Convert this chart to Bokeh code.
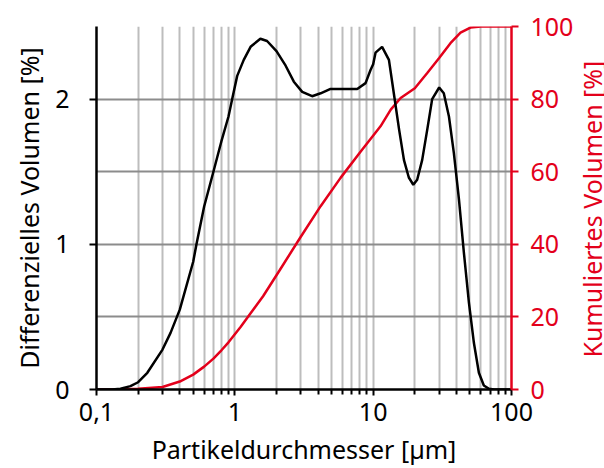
import math
from bokeh.plotting import figure
from bokeh.layouts import row
from bokeh.models import Range1d, LinearAxis, FixedTicker, CustomJSTickFormatter, Label
from bokeh.embed import file_html
from bokeh.resources import INLINE

# Differential volume [%] vs particle diameter [µm]
diff_d = [0.1, 0.13, 0.149, 0.176, 0.2, 0.233, 0.3, 0.343, 0.4, 0.5, 0.528, 0.6, 0.7, 0.8,
          0.9, 0.957, 1.04, 1.16, 1.30, 1.53, 1.71, 2.0, 2.33, 2.67, 3.07, 3.62, 4.17, 4.92,
          6.14, 7.67, 8.81, 9.57, 10.0, 10.4, 11.6, 13.0, 14.1, 15.4, 16.7, 18.1, 19.5, 20.8,
          22.6, 24.6, 26.7, 30.0, 32.4, 35.3, 38.3, 41.7, 45.3, 49.2, 53.5, 58.1, 63.1, 68.7,
          75.0, 100.0]
diff_v = [0.0, 0.0, 0.005, 0.023, 0.05, 0.115, 0.275, 0.39, 0.55, 0.88, 1.0, 1.26, 1.5, 1.71,
          1.88, 2.0, 2.16, 2.27, 2.36, 2.416, 2.40, 2.33, 2.23, 2.12, 2.05, 2.02, 2.04, 2.07,
          2.07, 2.07, 2.11, 2.20, 2.24, 2.32, 2.36, 2.27, 2.04, 1.79, 1.58, 1.46, 1.41, 1.445,
          1.58, 1.79, 2.0, 2.08, 2.04, 1.88, 1.63, 1.31, 0.94, 0.60, 0.32, 0.115, 0.028, 0.005,
          0.0, 0.0]

# Cumulative volume [%]
cum_d = [0.1, 0.15, 0.2, 0.3, 0.4, 0.5, 0.6, 0.7, 0.8, 0.9, 1.1, 1.3, 1.6, 2.12, 2.99, 4.17,
         5.81, 8.1, 9.57, 11.3, 13.4, 15.8, 20.0, 24.6, 30.0, 36.2, 42.8, 50.5, 60.0, 100.0]
cum_v = [0.0, 0.0, 0.2, 0.7, 2.2, 4.1, 6.3, 8.5, 10.8, 13.0, 17.2, 21.0, 25.7, 33.0, 42.0, 50.5,
         58.3, 65.5, 69.0, 72.5, 77.1, 80.3, 83.0, 87.2, 91.3, 95.4, 98.3, 99.7, 100.0, 100.0]

x_major = [0.1, 1, 10, 100]
x_minor = [0.2, 0.3, 0.4, 0.5, 0.6, 0.7, 0.8, 0.9, 2, 3, 4, 5, 6, 7, 8, 9,
           20, 30, 40, 50, 60, 70, 80, 90]
left_ticks = [0, 1, 2]
right_ticks = [0, 20, 40, 60, 80, 100]
hgrid = [0.5, 1.0, 1.5, 2.0, 2.5]

RED = "#e3001b"
FONT = "Noto Sans"
TICK_FS = "25px"
LAB_FS = "25px"

H = 468
W_MAIN, W_SIDE = 576, 28
BL, BT, BB = 96, 26, 79
BR = W_MAIN - 511

p = figure(width=W_MAIN, height=H, x_axis_type="log", x_range=Range1d(0.1, 100),
           y_range=Range1d(0, 2.5), output_backend="svg", toolbar_location=None,
           min_border_left=BL, min_border_right=BR, min_border_top=BT, min_border_bottom=BB)
p.outline_line_color = None
p.background_fill_color = "white"
p.border_fill_color = "white"

p.extra_y_ranges = {"cum": Range1d(0, 100)}

# grids
p.xgrid.ticker = FixedTicker(ticks=[1, 10], minor_ticks=x_minor)
p.xgrid.grid_line_color = "#bdbdbd"
p.xgrid.grid_line_width = 2
p.xgrid.minor_grid_line_color = "#bdbdbd"
p.xgrid.minor_grid_line_width = 2
p.ygrid.ticker = FixedTicker(ticks=hgrid)
p.ygrid.grid_line_color = "#8c8c8c"
p.ygrid.grid_line_width = 2

# x axis
xa = p.xaxis[0]
xa.ticker = FixedTicker(ticks=x_major, minor_ticks=x_minor)
xa.formatter = CustomJSTickFormatter(code="return tick < 1 ? tick.toString().replace('.', ',') : tick.toString();")
xa.axis_label = "Partikeldurchmesser [µm]"
xa.axis_line_color = "black"
xa.axis_line_width = 2.5
xa.major_tick_line_color = "black"
xa.major_tick_line_width = 2
xa.major_tick_out = 6
xa.major_tick_in = 0
xa.minor_tick_line_color = "black"
xa.minor_tick_line_width = 2
xa.minor_tick_out = 5
xa.minor_tick_in = 0
xa.major_label_text_font = FONT
xa.major_label_text_font_size = TICK_FS
xa.major_label_text_color = "black"
xa.major_label_standoff = 7
xa.axis_label_text_font = FONT
xa.axis_label_text_font_size = LAB_FS
xa.axis_label_text_font_style = "normal"
xa.axis_label_text_color = "black"
xa.axis_label_standoff = 8

# left axis
ya = p.yaxis[0]
ya.ticker = FixedTicker(ticks=left_ticks)
ya.axis_label = "Differenzielles Volumen [%]"
ya.axis_line_color = "black"
ya.axis_line_width = 2.5
ya.major_tick_line_color = "black"
ya.major_tick_line_width = 2
ya.major_tick_out = 7
ya.major_tick_in = 0
ya.minor_tick_line_color = None
ya.major_label_text_font = FONT
ya.major_label_text_font_size = TICK_FS
ya.major_label_text_color = "black"
ya.major_label_standoff = 20
ya.axis_label_text_font = FONT
ya.axis_label_text_font_size = LAB_FS
ya.axis_label_text_font_style = "normal"
ya.axis_label_text_color = "black"
ya.axis_label_standoff = 6

# right axis (its title is drawn in a narrow strip so that it reads bottom-to-top)
ra = LinearAxis(y_range_name="cum", ticker=FixedTicker(ticks=right_ticks))
ra.axis_line_color = RED
ra.axis_line_width = 2.5
ra.major_tick_line_color = RED
ra.major_tick_line_width = 2
ra.major_tick_out = 7
ra.major_tick_in = 0
ra.minor_tick_line_color = None
ra.major_label_text_font = FONT
ra.major_label_text_font_size = TICK_FS
ra.major_label_text_color = RED
ra.major_label_standoff = 12
p.add_layout(ra, "right")

p.line(cum_d, cum_v, y_range_name="cum", line_color=RED, line_width=2.5)
p.line(diff_d, diff_v, line_color="black", line_width=2.5)

# side strip holding the right axis title
s = figure(width=W_SIDE, height=H, x_range=Range1d(0, 1), y_range=Range1d(0, 1),
           output_backend="svg", toolbar_location=None,
           min_border=0, min_border_left=0, min_border_right=0,
           min_border_top=0, min_border_bottom=0)
s.axis.visible = False
s.grid.visible = False
s.outline_line_color = None
s.background_fill_color = "white"
s.border_fill_color = "white"
s.add_layout(Label(x=0.54, y=0.497, x_units="data", y_units="data",
                   text="Kumuliertes Volumen [%]", angle=math.pi / 2,
                   text_align="center", text_baseline="middle",
                   text_font=FONT, text_font_size=LAB_FS, text_color=RED))

layout = row(p, s, spacing=0)
open("out.html", "w").write(file_html(layout, INLINE))
